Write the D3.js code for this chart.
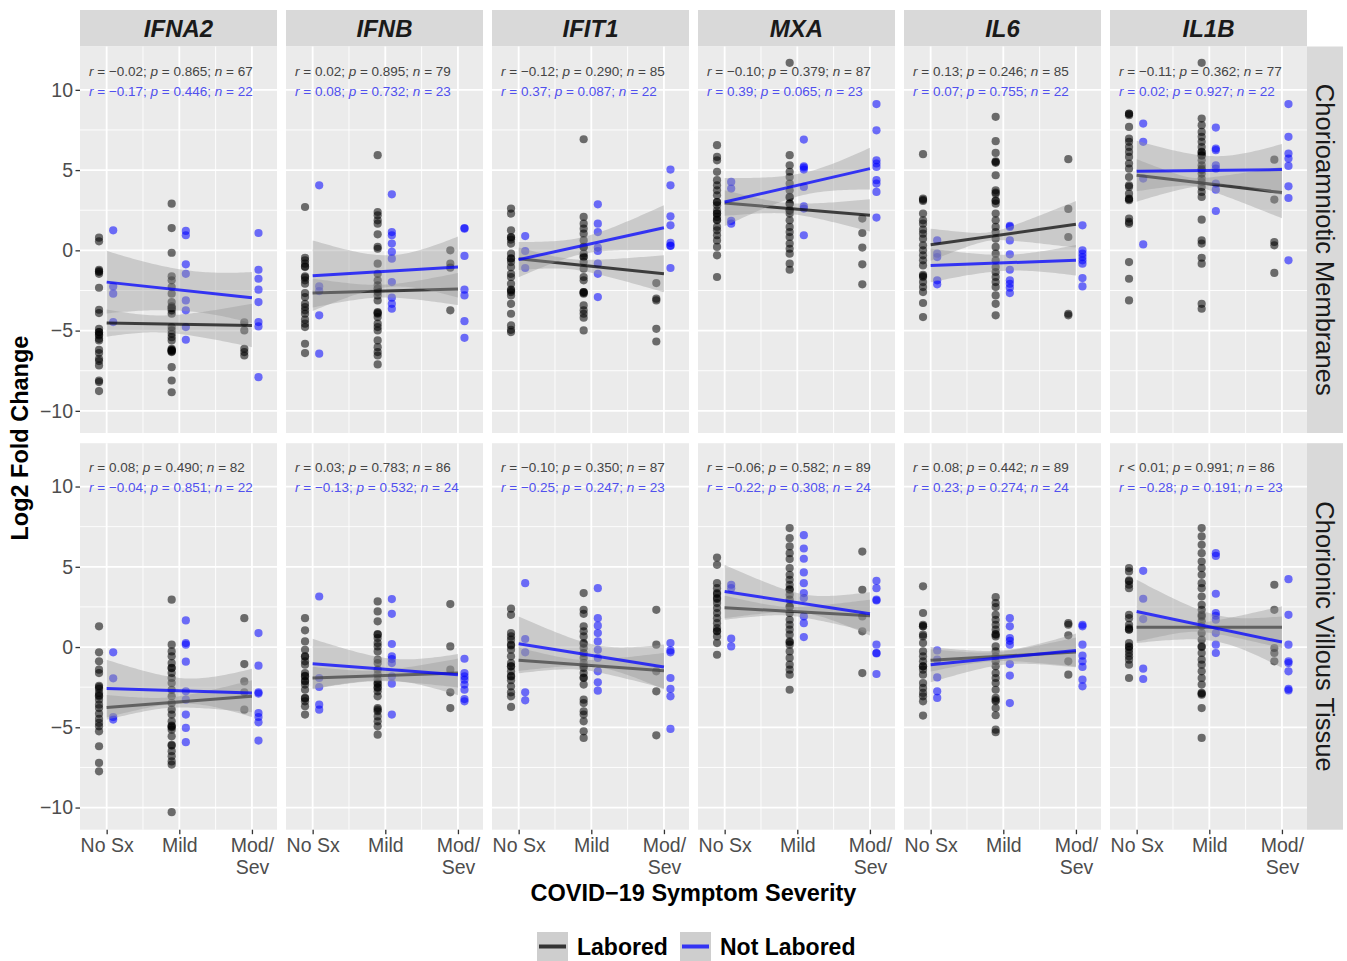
<!DOCTYPE html>
<html>
<head>
<meta charset="utf-8">
<script src="https://cdn.jsdelivr.net/npm/d3@7"></script>
<style>
  body { margin: 0; background: #fff; }
  text { font-family: 'Liberation Sans', Arial, sans-serif; }
</style>
</head>
<body>
<script>
// facets
const genes = ['IFNA2', 'IFNB', 'IFIT1', 'MXA', 'IL6', 'IL1B'];
const tissues = ['Chorioamniotic Membranes', 'Chorionic Villous Tissue'];
const groups = ['Labored', 'Not Labored'];
const severity = [1, 2, 3];
const severityLabels = [['No Sx'], ['Mild'], ['Mod/', 'Sev']];
const yTicks = [-10, -5, 0, 5, 10];

// Log2 fold change per [tissue][gene][severity]
const laboredPoints = [
  [
    [[0.79,0.56,-1.21,-1.3,-1.35,-1.46,-2.33,-3.70,-3.91,-4.89,-5.09,-5.1,-5.24,-5.3,-5.51,-5.61,-6.20,-6.40,-6.76,-6.90,-7.17,-8.11,-8.21,-8.77],
     [2.91,1.39,-0.15,-1.62,-1.87,-2.29,-2.70,-3.22,-3.49,-3.58,-3.6,-3.74,-3.95,-4.78,-4.99,-5.20,-5.41,-5.61,-6.13,-6.2,-6.24,-6.25,-6.3,-6.34,-7.28,-8.11,-8.84],
     [-4.49,-4.99,-6.13,-6.34,-6.55]],
    [[2.70,-0.46,-0.62,-0.83,-1.0,-1.04,-1.62,-1.7,-1.87,-2.08,-2.66,-2.91,-3.33,-3.53,-3.74,-3.95,-4.32,-4.57,-4.78,-5.82,-6.40],
     [5.93,2.39,2.18,1.87,1.66,1.00,0.21,0.10,-0.83,-1.46,-1.87,-2.18,-2.39,-2.4,-2.60,-2.81,-3.12,-3.85,-3.9,-3.95,-4.16,-4.57,-4.78,-4.99,-5.61,-6.03,-6.34,-6.55,-7.11],
     [0.00,-0.83,-1.08,-3.74]],
    [[2.60,2.29,1.25,0.83,0.8,0.67,0.42,-0.21,-0.5,-0.52,-0.73,-1.04,-1.46,-1.66,-2.08,-2.45,-2.5,-2.60,-2.81,-3.33,-3.95,-4.68,-4.95,-5.09],
     [6.92,2.08,1.66,1.35,1.04,0.62,0.2,0.21,-0.21,-0.4,-0.42,-0.73,-1.14,-1.66,-1.87,-2.60,-2.6,-2.65,-2.70,-3.43,-3.74,-3.95,-4.20,-4.99],
     [-2.04,-3.01,-3.12,-4.89,-5.68]],
    [[6.55,5.82,5.61,4.89,4.37,4.05,3.74,3.43,3.01,3.0,2.81,2.49,2.3,2.29,2.08,1.9,1.87,1.46,1.25,0.94,0.62,0.21,-0.31,-1.66],
     [11.68,5.93,5.30,4.89,4.57,4.16,3.74,3.33,3.3,2.91,2.9,2.49,2.5,2.29,1.87,1.46,1.14,0.83,0.42,0.10,-0.21,-0.83,-1.21],
     [1.98,1.08,0.17,-0.87,-2.12]],
    [[5.99,3.22,3.15,3.08,2.29,1.87,1.66,1.29,1.04,0.73,0.31,0,-0.31,-0.62,-0.94,-1.52,-1.6,-1.66,-1.98,-2.29,-2.60,-3.28,-4.16],
     [8.32,6.80,6.07,5.55,5.5,5.45,4.68,3.74,3.6,3.53,3.1,3.08,2.91,2.29,1.87,1.46,1.14,0.73,0.21,-0.21,-0.62,-1.04,-1.35,-1.66,-1.98,-2.29,-2.81,-3.33,-4.05],
     [5.68,2.58,0.83,-3.95,-4.05]],
    [[8.52,8.5,8.42,7.69,6.96,6.76,6.44,6.13,5.82,5.41,5.09,4.57,4.05,3.95,3.53,3.22,3.2,3.12,1.98,1.77,1.66,-0.73,-1.77,-3.12],
     [11.68,8.21,7.80,7.38,7.07,6.76,6.44,6.13,6.1,5.93,5.9,5.61,5.30,5.09,5.0,4.78,4.47,4.26,3.95,3.64,3.33,1.91,0.62,0.42,-0.46,-0.83,-3.33,-3.64],
     [5.65,3.16,0.52,0.31,-1.41]]
  ],
  [
    [[1.29,-0.33,-0.89,-1.41,-1.62,-2.41,-2.5,-2.61,-2.86,-3.0,-3.07,-3.28,-3.59,-3.80,-4.15,-4.48,-4.73,-4.94,-5.25,-6.18,-7.22,-7.74],
     [2.95,0.15,-0.27,-0.58,-1.00,-1.3,-1.31,-1.62,-1.93,-2.24,-2.66,-3.07,-3.49,-3.90,-4.21,-4.63,-4.9,-4.94,-5.0,-5.15,-5.56,-6.1,-6.14,-6.49,-6.80,-7.12,-7.32,-10.29],
     [1.80,-1.06,-2.14,-2.82,-3.90]],
    [[1.80,1.04,0.35,-0.17,-0.58,-0.6,-0.89,-1.10,-1.62,-1.8,-1.83,-2.1,-2.14,-2.34,-2.66,-3.17,-3.2,-3.38,-3.69,-4.21],
     [2.84,2.22,1.60,0.8,0.77,0.56,0.25,0.04,-0.27,-0.79,-1.00,-1.41,-1.72,-2.03,-2.24,-2.3,-2.5,-2.55,-2.76,-3.07,-3.80,-3.9,-4.00,-4.32,-4.63,-4.94,-5.46],
     [2.68,0.04,-1.41,-2.82,-3.80]],
    [[2.39,2.01,0.87,0.66,0.46,0.15,0.1,-0.17,-0.58,-1.00,-1.2,-1.20,-1.51,-1.8,-1.83,-2.07,-2.45,-2.82,-3.07,-3.73],
     [3.36,2.32,2.07,1.29,0.98,0.66,0.25,0.2,-0.06,-0.37,-0.68,-1.00,-1.2,-1.31,-1.62,-1.9,-1.93,-2.34,-3.28,-3.49,-4.00,-4.21,-4.63,-5.25,-5.66],
     [2.32,0.15,-1.51,-2.76,-5.50]],
    [[5.58,5.12,3.98,3.67,3.36,3.3,3.05,3.0,2.74,2.43,2.12,1.80,1.49,1.18,1.0,0.98,0.66,0.25,-0.48],
     [7.41,6.78,6.27,5.85,5.48,4.92,4.50,4.19,3.88,3.6,3.57,3.26,2.95,2.53,2.5,2.12,1.70,1.39,1.08,0.77,0.35,0.3,0.15,-0.27,-0.68,-1.10,-1.41,-1.72,-2.66],
     [5.95,3.57,1.91,0.98,-1.62]],
    [[3.78,2.12,1.39,1.3,1.29,0.77,0.66,0.25,-0.27,-0.58,-0.89,-1.2,-1.20,-1.41,-1.72,-2.24,-2.55,-2.86,-3.07,-3.38,-4.27],
     [3.11,2.74,2.49,2.01,1.70,1.39,1.08,0.8,0.77,0.66,0.04,-0.27,-0.58,-0.89,-1.20,-1.62,-1.93,-2.24,-2.66,-3.17,-3.3,-3.38,-3.80,-4.25,-5.15,-5.31],
     [1.49,1.39,0.73,-0.89,-1.72]],
    [[4.92,4.71,4.15,4.1,3.88,3.67,2.01,1.80,1.39,1.18,1.1,1.08,0.25,0.04,0.0,-0.17,-0.37,-0.58,-0.79,-1.10,-1.93],
     [7.41,6.89,6.37,5.85,5.33,4.92,4.50,3.98,3.67,3.15,2.63,2.32,2.0,1.91,1.60,1.29,0.87,0.46,0.04,0.0,-0.37,-0.79,-1.10,-1.51,-1.93,-2.34,-2.86,-2.9,-2.97,-3.80,-5.66],
     [3.88,2.32,-0.06,-0.37,-0.89]]
  ]
];

const notLaboredPoints = [
  [
    [[1.25,-2.25,-2.70,-4.47],
     [1.21,0.94,-0.87,-1.46,-3.12,-3.74,-4.78,-5.57],
     [1.08,-1.21,-1.77,-2.45,-3.22,-4.47,-4.74,-7.90]],
    [[4.05,-2.25,-2.54,-4.05,-6.44],
     [3.49,1.14,0.94,0.42,-0.10,-0.52,-1.98,-2.95,-3.33,-3.64],
     [1.39,1.35,-0.35,-2.45,-2.81,-4.41,-5.45]],
    [[0.89,-0.04,-1.10],
     [2.87,1.66,1.14,0.17,-0.04,-0.83,-1.46,-2.91],
     [5.03,4.05,2.12,1.56,0.46,0.3,0.27,-1.10]],
    [[4.26,3.85,1.83,1.66],
     [6.90,5.24,5.16,5.03,3.95,2.74,2.60,0.94],
     [9.11,7.48,5.61,5.41,5.20,4.37,4.16,3.64,2.04]],
    [[0.62,-0.21,-0.42,-1.87,-2.12],
     [1.52,1.46,0.62,-0.25,-1.21,-1.87,-2.08,-2.33,-2.66],
     [1.56,0,-0.21,-0.42,-0.62,-0.83,-1.73,-2.25]],
    [[7.90,6.76,4.47,0.37],
     [7.65,6.34,6.24,5.30,5.09,4.16,3.78,2.45],
     [9.11,7.07,6.03,5.72,5.26,3.99,3.26,-0.62]]
  ],
  [
    [[-0.33,-1.95,-4.36,-4.52],
     [1.66,0.25,0.15,-0.91,-2.76,-3.28,-4.21,-5.04,-5.93],
     [0.87,-1.16,-2.82,-2.90,-4.11,-4.36,-4.69,-5.83]],
    [[3.15,-1.93,-2.49,-3.59,-3.90],
     [2.99,2.07,0.19,-0.58,-0.75,-1.00,-1.83,-2.28,-4.21],
     [-0.73,-1.62,-1.83,-2.03,-2.34,-2.66,-3.24,-3.38]],
    [[3.98,0.50,-0.33,-2.82,-3.32],
     [3.67,1.80,1.33,0.87,0.35,-0.17,-0.68,-1.51,-2.20,-2.72],
     [0.25,-0.21,-0.33,-1.93,-2.61,-3.07,-5.10]],
    [[3.88,3.67,0.52,0.04],
     [6.97,6.14,5.50,4.65,3.98,3.36,3.05,1.91,1.49,0.62],
     [4.13,3.67,2.95,2.9,0.15,-0.37,-0.4,-1.68]],
    [[-0.21,-0.79,-1.89,-2.76,-3.17],
     [1.80,1.29,0.56,0.39,0.15,-1.06,-1.78,-3.49],
     [1.39,1.29,0.15,-0.54,-0.89,-1.24,-2.03,-2.45]],
    [[4.75,3.01,1.74,-1.35,-1.99],
     [5.85,5.68,3.32,2.12,1.95,1.70,0.87,0.15,-0.37],
     [4.23,2.01,0.15,-0.89,-1.00,-1.51,-2.61,-2.70]]
  ]
];

// linear fit read at No Sx and Mod/Sev, [tissue][gene]
const laboredFit = [
  [[-4.53,-4.68],[-2.66,-2.41],[-0.52,-1.46],[2.95,2.18],[0.35,1.62],[4.68,3.60]],
  [[-3.76,-3.07],[-1.93,-1.62],[-0.83,-1.47],[2.45,1.95],[-0.83,-0.31],[1.24,1.24]]
];
const notLaboredFit = [
  [[-1.98,-2.95],[-1.58,-1.04],[-0.58,1.41],[3.01,5.09],[-0.94,-0.62],[4.93,5.03]],
  [[-2.59,-2.86],[-1.04,-1.72],[0.21,-1.24],[3.46,2.07],[-1.10,-0.21],[2.22,0.31]]
];
// 95% CI half width at No Sx, Mild, Mod/Sev
const laboredBand = [
  [[0.85,0.6,1.35],[0.9,0.4,1.0],[0.7,0.4,1.15],[0.8,0.35,1.0],[1.0,0.35,1.45],[1.0,0.4,1.6]],
  [[0.77,0.35,1.0],[0.7,0.35,0.9],[0.8,0.35,1.1],[0.75,0.3,1.0],[0.7,0.3,0.9],[0.9,0.35,1.3]]
];
const notLaboredBand = [
  [[1.95,1.29,1.6],[2.2,1.0,1.9],[1.1,0.55,1.4],[1.5,0.7,1.3],[1.05,0.5,0.95],[1.9,0.9,1.6]],
  [[1.8,0.8,1.5],[1.55,0.7,1.28],[1.7,0.7,1.4],[1.66,0.6,1.35],[1.1,0.45,1.05],[1.97,0.85,1.6]]
];

// correlation stats
const laboredR = [[-0.02,0.02,-0.12,-0.10,0.13,-0.11],[0.08,0.03,-0.10,-0.06,0.08,0.004]];
const laboredP = [[0.865,0.895,0.290,0.379,0.246,0.362],[0.490,0.783,0.350,0.582,0.442,0.991]];
const laboredN = [[67,79,85,87,85,77],[82,86,87,89,89,86]];
const notLaboredR = [[-0.17,0.08,0.37,0.39,0.07,0.02],[-0.04,-0.13,-0.25,-0.22,0.23,-0.28]];
const notLaboredP = [[0.446,0.732,0.087,0.065,0.755,0.927],[0.851,0.532,0.247,0.308,0.274,0.191]];
const notLaboredN = [[22,23,22,23,22,22],[22,24,23,24,24,23]];

const W = 1347, H = 961;
const panelLeft = 80, panelW = 197, gapX = 9;
const rowTop = [46.5, 443.2], panelH = 386.5;
const stripTop = 10;
const stripRightX = panelLeft + 6 * panelW + 5 * gapX;
const font = "'Liberation Sans', Arial, sans-serif";

const colors = { 'Labored': '#000000', 'Not Labored': '#0000ff' };
const dodge = { 'Labored': -0.105, 'Not Labored': 0.09 };

const svg = d3.select('body').append('svg')
  .attr('width', W)
  .attr('height', H);

const x = d3.scaleLinear().domain([0.633, 3.345]).range([0, panelW]);
const y = d3.scaleLinear().domain([-11.38, 12.7]).range([panelH, 0]);

const minus = v => (v < 0 ? '\u2212' : '') + Math.abs(v);
const fmtR = v => Math.abs(v) < 0.01 ? '< 0.01' : '= ' + (v < 0 ? '\u2212' : '') + Math.abs(v).toFixed(2);

function halfWidth(hw, xv) {
  const [h1, h2, h3] = hw;
  const A = h2 * h2, B = (h3 * h3 - h1 * h1) / 2, C = (h3 * h3 + h1 * h1) / 2 - h2 * h2;
  const u = xv - 2;
  return Math.sqrt(Math.max(0, A + B * u + C * u * u));
}

// top strips
genes.forEach((gene, gi) => {
  const sx = panelLeft + gi * (panelW + gapX);
  svg.append('rect')
    .attr('x', sx).attr('y', stripTop)
    .attr('width', panelW).attr('height', rowTop[0] - stripTop)
    .attr('fill', '#d9d9d9');
  svg.append('text')
    .attr('x', sx + panelW / 2).attr('y', (stripTop + rowTop[0]) / 2)
    .attr('dy', '0.36em')
    .attr('text-anchor', 'middle')
    .style('font-size', '24px').style('font-weight', 'bold').style('font-style', 'italic')
    .attr('fill', '#1a1a1a')
    .text(gene);
});

// right strips
tissues.forEach((tissue, ti) => {
  svg.append('rect')
    .attr('x', stripRightX).attr('y', rowTop[ti])
    .attr('width', 36).attr('height', panelH)
    .attr('fill', '#d9d9d9');
  svg.append('text')
    .attr('transform', `translate(${stripRightX + 18},${rowTop[ti] + panelH / 2}) rotate(90)`)
    .attr('dy', '0.36em')
    .attr('text-anchor', 'middle')
    .style('font-size', '25.5px')
    .attr('fill', '#1a1a1a')
    .text(tissue);
});

const areaFor = (fit, hw) => d3.area()
  .x(d => x(d))
  .y0(d => y(fit[0] + (fit[1] - fit[0]) * (d - 1) / 2 - halfWidth(hw, d)))
  .y1(d => y(fit[0] + (fit[1] - fit[0]) * (d - 1) / 2 + halfWidth(hw, d)));

const xs = d3.range(1, 3.0001, 0.04);

tissues.forEach((tissue, ti) => {
  genes.forEach((gene, gi) => {
    const g = svg.append('g')
      .attr('transform', `translate(${panelLeft + gi * (panelW + gapX)},${rowTop[ti]})`);

    g.append('rect').attr('width', panelW).attr('height', panelH).attr('fill', '#ebebeb');

    // grid
    g.selectAll('.ymin').data([-7.5, -2.5, 2.5, 7.5]).enter().append('line')
      .attr('x1', 0).attr('x2', panelW).attr('y1', d => y(d)).attr('y2', d => y(d))
      .attr('stroke', '#fff').attr('stroke-width', 0.9);
    g.selectAll('.xmin').data([1.5, 2.5]).enter().append('line')
      .attr('y1', 0).attr('y2', panelH).attr('x1', d => x(d)).attr('x2', d => x(d))
      .attr('stroke', '#fff').attr('stroke-width', 0.9);
    g.selectAll('.ymaj').data(yTicks).enter().append('line')
      .attr('x1', 0).attr('x2', panelW).attr('y1', d => y(d)).attr('y2', d => y(d))
      .attr('stroke', '#fff').attr('stroke-width', 1.8);
    g.selectAll('.xmaj').data(severity).enter().append('line')
      .attr('y1', 0).attr('y2', panelH).attr('x1', d => x(d)).attr('x2', d => x(d))
      .attr('stroke', '#fff').attr('stroke-width', 1.8);

    // points
    const pts = [];
    groups.forEach(grp => {
      const src = grp === 'Labored' ? laboredPoints : notLaboredPoints;
      src[ti][gi].forEach((vals, si) => {
        vals.forEach(v => pts.push({ grp, sev: severity[si], v }));
      });
    });
    g.selectAll('circle').data(pts).enter().append('circle')
      .attr('cx', d => x(d.sev + dodge[d.grp]))
      .attr('cy', d => y(d.v))
      .attr('r', 4.1)
      .attr('fill', d => colors[d.grp])
      .attr('fill-opacity', 0.55);

    // smooth
    groups.forEach(grp => {
      const fit = grp === 'Labored' ? laboredFit[ti][gi] : notLaboredFit[ti][gi];
      const hw = grp === 'Labored' ? laboredBand[ti][gi] : notLaboredBand[ti][gi];
      g.append('path')
        .attr('d', areaFor(fit, hw)(xs))
        .attr('fill', '#999999').attr('fill-opacity', 0.4);
      g.append('line')
        .attr('x1', x(1)).attr('x2', x(3))
        .attr('y1', y(fit[0])).attr('y2', y(fit[1]))
        .attr('stroke', colors[grp])
        .attr('stroke-opacity', grp === 'Labored' ? 0.7 : 0.75)
        .attr('stroke-width', 3);
    });

    // stats
    const stats = [
      [laboredR[ti][gi], laboredP[ti][gi], laboredN[ti][gi], '#444444'],
      [notLaboredR[ti][gi], notLaboredP[ti][gi], notLaboredN[ti][gi], '#5050ee']
    ];
    stats.forEach(([r, p, n, col], li) => {
      const t = g.append('text')
        .attr('x', 9).attr('y', 29 + li * 20)
        .attr('fill', col)
        .style('font-size', '13.5px');
      t.append('tspan').style('font-style', 'italic').text('r');
      t.append('tspan').text(' ' + fmtR(r) + '; ');
      t.append('tspan').style('font-style', 'italic').text('p');
      t.append('tspan').text(' = ' + p.toFixed(3) + '; ');
      t.append('tspan').style('font-style', 'italic').text('n');
      t.append('tspan').text(' = ' + n);
    });

    // axes
    if (gi === 0) {
      const ya = g.append('g').call(d3.axisLeft(y).tickValues(yTicks).tickSize(4.5).tickPadding(2.5).tickFormat(minus));
      ya.select('.domain').remove();
      ya.selectAll('line').attr('stroke', '#333').attr('stroke-width', 1.3);
      ya.selectAll('text').attr('fill', '#4d4d4d').style('font-size', '19.5px').style('font-family', font);
    }
    if (ti === 1) {
      const xa = g.append('g').attr('transform', `translate(0,${panelH})`)
        .call(d3.axisBottom(x).tickValues(severity).tickSize(4.5).tickPadding(4));
      xa.select('.domain').remove();
      xa.selectAll('line').attr('stroke', '#333').attr('stroke-width', 1.3);
      xa.selectAll('text')
        .attr('fill', '#4d4d4d').style('font-size', '19.5px').style('font-family', font)
        .attr('dy', null)
        .text(null)
        .each(function (d) {
          const t = d3.select(this);
          severityLabels[d - 1].forEach((line, li) => {
            t.append('tspan').attr('x', 0).attr('dy', li ? '1.15em' : '0.71em').text(line);
          });
        });
    }
  });
});

// axis titles
svg.append('text')
  .attr('transform', `translate(20,${(rowTop[0] + rowTop[1] + panelH) / 2}) rotate(-90)`)
  .attr('dy', '0.36em')
  .attr('text-anchor', 'middle')
  .style('font-size', '23.5px').style('font-weight', 'bold')
  .text('Log2 Fold Change');

svg.append('text')
  .attr('x', (panelLeft + stripRightX) / 2).attr('y', 901)
  .attr('text-anchor', 'middle')
  .style('font-size', '23.5px').style('font-weight', 'bold')
  .text('COVID\u221219 Symptom Severity');

// legend
const legendX = [537, 680];
groups.forEach((grp, i) => {
  const lg = svg.append('g').attr('transform', `translate(${legendX[i]},932)`);
  lg.append('rect').attr('width', 31).attr('height', 29).attr('fill', '#f2f2f2');
  lg.append('rect').attr('width', 31).attr('height', 29).attr('fill', '#999999').attr('fill-opacity', 0.4);
  lg.append('line').attr('x1', 2).attr('x2', 29).attr('y1', 14.5).attr('y2', 14.5)
    .attr('stroke', colors[grp]).attr('stroke-opacity', 0.75).attr('stroke-width', 4);
  lg.append('text')
    .attr('x', 40).attr('y', 14.5).attr('dy', '0.36em')
    .style('font-size', '23px').style('font-weight', 'bold')
    .text(grp);
});
</script>
</body>
</html>
